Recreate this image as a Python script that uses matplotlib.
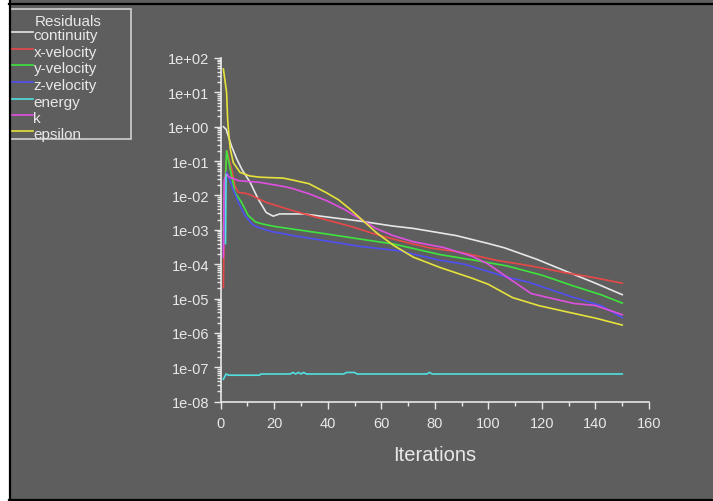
import matplotlib
matplotlib.use('Agg')
import matplotlib.pyplot as plt
from matplotlib.lines import Line2D
from matplotlib.patches import Rectangle
from matplotlib.ticker import LogLocator, MultipleLocator, FuncFormatter

plt.rcParams['font.family'] = ['Liberation Sans', 'DejaVu Sans']

# residual history (iteration, value)
it_cont = [1, 2, 4, 6, 8, 11, 14, 17, 19.6, 22, 31, 41, 52, 64, 72, 88, 100, 106, 118, 130, 140, 150]
continuity = [1.0, 0.85, 0.28, 0.115, 0.056, 0.024, 0.0079, 0.0032, 0.0025, 0.0029, 0.0029, 0.0023,
              0.0018, 0.0013, 0.0011, 0.00068, 0.0004, 0.0003, 0.00014, 5.8e-05, 2.8e-05, 1.3e-05]

it_xvel = [1, 1.6, 2.4, 2.8, 4.1, 5.3, 6.6, 9, 11, 17, 26, 36, 48, 59, 70, 78, 90, 103, 116, 128, 140, 150]
x_velocity = [2.1e-05, 0.032, 0.2, 0.145, 0.059, 0.019, 0.0123, 0.0117, 0.0105, 0.0063, 0.0038, 0.0023,
              0.0013, 0.0007, 0.00042, 0.0003, 0.00022, 0.00013, 8.9e-05, 5.8e-05, 4e-05, 2.8e-05]

it_yvel = [1, 2.2, 3.5, 5.3, 7.8, 10.3, 13, 15.3, 20, 27, 39.5, 52, 64.4, 82, 95, 107, 120, 132, 142, 150]
y_velocity = [0.001, 0.2, 0.063, 0.0123, 0.0063, 0.0026, 0.0017, 0.0015, 0.00126, 0.00105, 0.00076,
              0.00054, 0.00039, 0.00019, 0.00013, 8.9e-05, 4.8e-05, 2.3e-05, 1.3e-05, 7.4e-06]

it_zvel = [1, 2.2, 3, 4.5, 6.6, 9.1, 12, 14, 19, 24, 27, 40, 52, 66, 82, 91, 107, 115, 132, 142, 150]
z_velocity = [0.00032, 0.047, 0.035, 0.016, 0.0063, 0.0026, 0.0014, 0.00117, 0.00089, 0.00076, 0.00068,
              0.00047, 0.00033, 0.00025, 0.00013, 0.0001, 4.2e-05, 3e-05, 1.07e-05, 6.3e-06, 2.8e-06]

it_energy = [1, 2, 3, 14.5, 15, 26, 27, 28, 29, 30, 31, 32, 46, 47, 50, 51, 77, 78, 79, 150]
energy = [4.5e-08, 6.4e-08, 5.9e-08, 5.9e-08, 6.4e-08, 6.4e-08, 7.1e-08, 6.4e-08, 7.1e-08, 6.4e-08,
          7.1e-08, 6.4e-08, 6.4e-08, 7.1e-08, 7.1e-08, 6.4e-08, 6.4e-08, 7.1e-08, 6.4e-08, 6.4e-08]
it_energy0 = [1.8, 2.0]
energy0 = [0.0004, 0.04]

it_k = [1, 1.3, 2.2, 3, 6.6, 14.7, 24, 27, 33, 39.5, 46, 52, 58, 64.4, 72, 83, 94, 100, 107, 116, 124, 132, 140, 150]
k = [0.00016, 0.028, 0.042, 0.035, 0.027, 0.024, 0.018, 0.0158, 0.0112, 0.0071, 0.004, 0.0021, 0.0011,
     0.00068, 0.00045, 0.00031, 0.00017, 0.0001, 4.2e-05, 1.4e-05, 1e-05, 7.2e-06, 6.3e-06, 3.4e-06]

it_eps = [1, 2.2, 2.6, 3, 3.6, 4.7, 7.2, 10.9, 14.7, 23.4, 27, 33, 39.5, 44, 48, 53, 58, 64.4, 72, 82,
          94, 100, 109, 119, 130, 140, 150]
epsilon = [48, 10, 1.6, 0.63, 0.22, 0.091, 0.047, 0.037, 0.034, 0.032, 0.028, 0.022, 0.012, 0.0075,
           0.0042, 0.0019, 0.00085, 0.00036, 0.00016, 8e-05, 3.9e-05, 2.6e-05, 1.07e-05, 6.2e-06,
           4e-06, 2.7e-06, 1.7e-06]

names = ['continuity', 'x-velocity', 'y-velocity', 'z-velocity', 'energy', 'k', 'epsilon']
colors = ['#e6e6e6', '#e84848', '#3ee43e', '#5050f2', '#50e0e0', '#e050e0', '#e6e23c']

W, H = 713, 502
bg = '#5e5e5e'
fg = '#e8e8e8'

fig = plt.figure(figsize=(W / 100, H / 100), dpi=100, facecolor=bg)
ax = fig.add_axes([220.7 / W, 1 - 402.7 / H, (649 - 220.7) / W, (402.7 - 59) / H])
ax.set_facecolor(bg)

series = [(it_cont, continuity), (it_xvel, x_velocity), (it_yvel, y_velocity), (it_zvel, z_velocity),
          (it_energy, energy), (it_k, k), (it_eps, epsilon)]
for (xs, ys), c in zip(series, colors):
    ax.plot(xs, ys, color=c, lw=1.2)
ax.plot(it_energy0, energy0, color=colors[4], lw=1.2)

ax.set_yscale('log')
ax.set_ylim(1e-8, 1e2)
ax.set_xlim(0, 160)
ax.xaxis.set_major_locator(MultipleLocator(20))
ax.xaxis.set_minor_locator(MultipleLocator(10))
ax.yaxis.set_major_locator(LogLocator(base=10, numticks=20))
ax.yaxis.set_minor_locator(LogLocator(base=10, subs=range(2, 10), numticks=100))
ax.yaxis.set_major_formatter(FuncFormatter(lambda v, p: '%.0e' % v))

for s in ['top', 'right']:
    ax.spines[s].set_visible(False)
for s in ['left', 'bottom']:
    ax.spines[s].set_color(fg)
    ax.spines[s].set_linewidth(1.2)
ax.tick_params(which='major', colors=fg, labelcolor=fg, labelsize=10.5, length=5, width=1)
ax.tick_params(axis='y', which='major', pad=3)
ax.tick_params(axis='x', which='major', pad=5)
ax.tick_params(which='minor', colors=fg, length=3, width=1)
ax.set_xlabel('Iterations', color=fg, fontsize=14.5, labelpad=11)

# legend box in the top left corner
def fx(px):
    return px / W

def fy(py):
    return 1 - py / H

fig.patches.append(Rectangle((fx(10), fy(140)), fx(121), 130 / H, transform=fig.transFigure,
                             facecolor='none', edgecolor='#cfcfcf', lw=1.2))
fig.text(fx(68), fy(22), 'Residuals', color=fg, fontsize=11, ha='center', va='center')
leg_y = [33, 50, 66, 83, 99.5, 116, 132]
for name, c, yy in zip(names, colors, leg_y):
    fig.lines.append(Line2D([fx(10), fx(33)], [fy(yy), fy(yy)], color=c, lw=1.2,
                            transform=fig.transFigure))
    fig.text(fx(33.5), fy(yy + 3), name, color=fg, fontsize=11, ha='left', va='center')

# outer frame of the screenshot
fig.patches.append(Rectangle((0, 0), fx(8.5), 1, transform=fig.transFigure, facecolor='white',
                             edgecolor='none'))
fig.lines.append(Line2D([fx(10), fx(10)], [0, 1], color='black', lw=1.6, transform=fig.transFigure))
fig.lines.append(Line2D([fx(9), 1], [fy(5), fy(5)], color='black', lw=1.6, transform=fig.transFigure))
fig.lines.append(Line2D([fx(9), 1], [fy(500.5), fy(500.5)], color='black', lw=1.6,
                        transform=fig.transFigure))

fig.savefig('out.png', dpi=100, facecolor=bg)
